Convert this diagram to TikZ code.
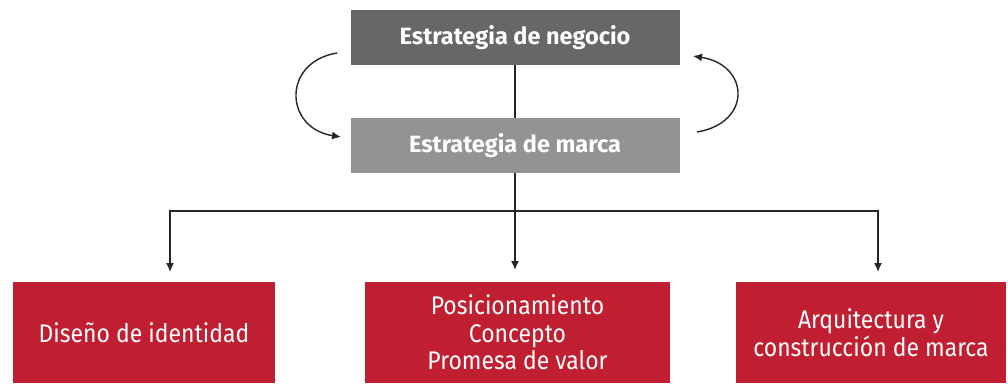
\documentclass[tikz,border=0pt]{standalone}
\usepackage{fontspec}
\setmainfont{Fira Sans}[FakeStretch=0.9]
\newfontfamily\headfont{Fira Sans}
\usetikzlibrary{arrows.meta}
\definecolor{darkg}{HTML}{666766}
\definecolor{lightg}{HTML}{939393}
\definecolor{brandred}{HTML}{C01F31}
\tikzset{
  topbox/.style={rectangle, minimum width=329pt, minimum height=55pt, inner sep=0pt, text=white, font=\headfont\fontsize{23.5}{28}\selectfont\bfseries},
  redbox/.style={rectangle, fill=brandred, minimum height=101pt, inner sep=0pt, text=white, align=center, font=\fontsize{25.5}{27.5}\selectfont},
  conn/.style={line width=1.4pt, color=black!85},
  arr/.style={conn, -{Latex[length=9pt,width=8pt]}},
}
\begin{document}
\begin{tikzpicture}[x=1pt,y=-1pt]
\useasboundingbox (0,0) rectangle (1008,383);
\node[topbox, fill=darkg] (neg) at (515,37.5) {Estrategia de negocio};
\node[topbox, fill=lightg] (marca) at (515,145.5) {Estrategia de marca};
\node[redbox, minimum width=262pt] (dis) at (144,332.5) {Diseño de identidad};
\node[redbox, minimum width=305pt] (pos) at (517.5,332.5) {Posicionamiento\\Concepto\\Promesa de valor};
\node[redbox, minimum width=270pt] (arq) at (871,332.5) {Arquitectura y\\construcción de marca};
\coordinate (j) at (515,211);
\coordinate (dl) at (170,272);
\coordinate (dm) at (515,270);
\coordinate (dr) at (878,272);
\draw[conn] (neg) -- (marca);
\draw[conn] (marca.south) -- (j);
\draw[arr] (j) -- (dm);
\draw[arr] (j) -| (dl);
\draw[arr] (j) -| (dr);
\coordinate (l1) at (337,53);
\coordinate (l2) at (341,137);
\coordinate (r1) at (697,132);
\coordinate (r2) at (693,56);
\draw[arr] (l1) .. controls (282,62) and (284,128) .. (l2);
\draw[arr] (r1) .. controls (752,123) and (750,65) .. (r2);
\end{tikzpicture}
\end{document}
